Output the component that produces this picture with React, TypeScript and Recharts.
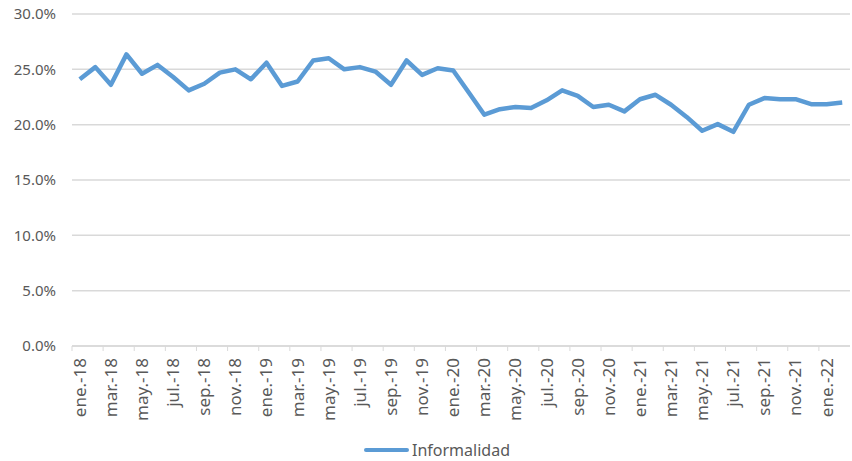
import { LineChart, Line, XAxis, YAxis, CartesianGrid, Legend } from 'recharts'

const monthNames = ['ene.', 'feb.', 'mar.', 'abr.', 'may.', 'jun.', 'jul.', 'ago.', 'sep.', 'oct.', 'nov.', 'dic.']
const years = ['18', '19', '20', '21', '22']

const values2018 = [24.1, 25.2, 23.6, 26.35, 24.6, 25.4, 24.3, 23.1, 23.7, 24.7, 25.0, 24.1]
const values2019 = [25.6, 23.5, 23.9, 25.8, 26.0, 25.0, 25.2, 24.8, 23.6, 25.8, 24.5, 25.1]
const values2020 = [24.9, 22.9, 20.9, 21.4, 21.6, 21.5, 22.2, 23.1, 22.6, 21.6, 21.8, 21.2]
const values2021 = [22.3, 22.7, 21.8, 20.7, 19.45, 20.05, 19.35, 21.8, 22.4, 22.3, 22.3, 21.85]
const values2022 = [21.85, 22.0]

const yTicks = [0, 5, 10, 15, 20, 25, 30]

const informalidad = [...values2018, ...values2019, ...values2020, ...values2021, ...values2022]

const data = informalidad.map((v, i) => ({
  month: `${monthNames[i % 12]}-${years[Math.floor(i / 12)]}`,
  informalidad: v,
}))

const WIDTH = 852
const HEIGHT = 461
const Y_AXIS_WIDTH = 72
const MARGIN = { top: 14, right: 2, left: 0, bottom: 0 }
const HALF_BAND = (WIDTH - Y_AXIS_WIDTH - MARGIN.right) / data.length / 2

const TEXT = '#595959'
const GRID = '#d9d9d9'
const BLUE = '#5b9bd5'
const FONT = '"Noto Sans", sans-serif'

function MonthTick({ x, y, payload }: any) {
  return (
    <g transform={`translate(${x},${y})`}>
      <line x1={-HALF_BAND} x2={-HALF_BAND} y1={0} y2={5} stroke={GRID} />
      <text
        transform="rotate(-90)"
        textAnchor="end"
        dx={-12}
        dy="0.35em"
        fill={TEXT}
        fontSize={17}
        fontFamily={FONT}
      >
        {payload.value}
      </text>
    </g>
  )
}

function LegendContent() {
  return (
    <div
      style={{
        display: 'flex',
        justifyContent: 'center',
        alignItems: 'center',
        height: 22,
        lineHeight: '22px',
        paddingLeft: 22,
        fontFamily: FONT,
        fontSize: 16,
        color: TEXT,
      }}
    >
      <svg width={45} height={6} style={{ marginRight: 3 }}>
        <line x1={2} x2={43} y1={3} y2={3} stroke={BLUE} strokeWidth={4} strokeLinecap="round" />
      </svg>
      <span>Informalidad</span>
    </div>
  )
}

export default function App() {
  return (
    <div style={{ position: 'absolute', left: 0, top: 0, background: '#fff' }}>
      <LineChart width={WIDTH} height={HEIGHT} data={data} margin={MARGIN}>
        <CartesianGrid vertical={false} stroke={GRID} strokeWidth={1.5} />
        <XAxis
          dataKey="month"
          scale="band"
          interval={1}
          height={93}
          tickSize={0}
          tickMargin={0}
          tickLine={false}
          axisLine={{ stroke: GRID, strokeWidth: 1.5 }}
          tick={<MonthTick />}
        />
        <YAxis
          width={Y_AXIS_WIDTH}
          domain={[0, 30]}
          ticks={yTicks}
          axisLine={false}
          tickLine={false}
          tickSize={0}
          tickMargin={16}
          tickFormatter={(v: number) => `${v.toFixed(1)}%`}
          tick={{ fontSize: 15, fill: TEXT, fontFamily: FONT }}
        />
        <Legend
          verticalAlign="bottom"
          wrapperStyle={{ left: 0, width: WIDTH }}
          content={<LegendContent />}
        />
        <Line
          type="linear"
          dataKey="informalidad"
          stroke={BLUE}
          strokeWidth={4.5}
          strokeLinejoin="round"
          dot={false}
          isAnimationActive={false}
        />
      </LineChart>
    </div>
  )
}
